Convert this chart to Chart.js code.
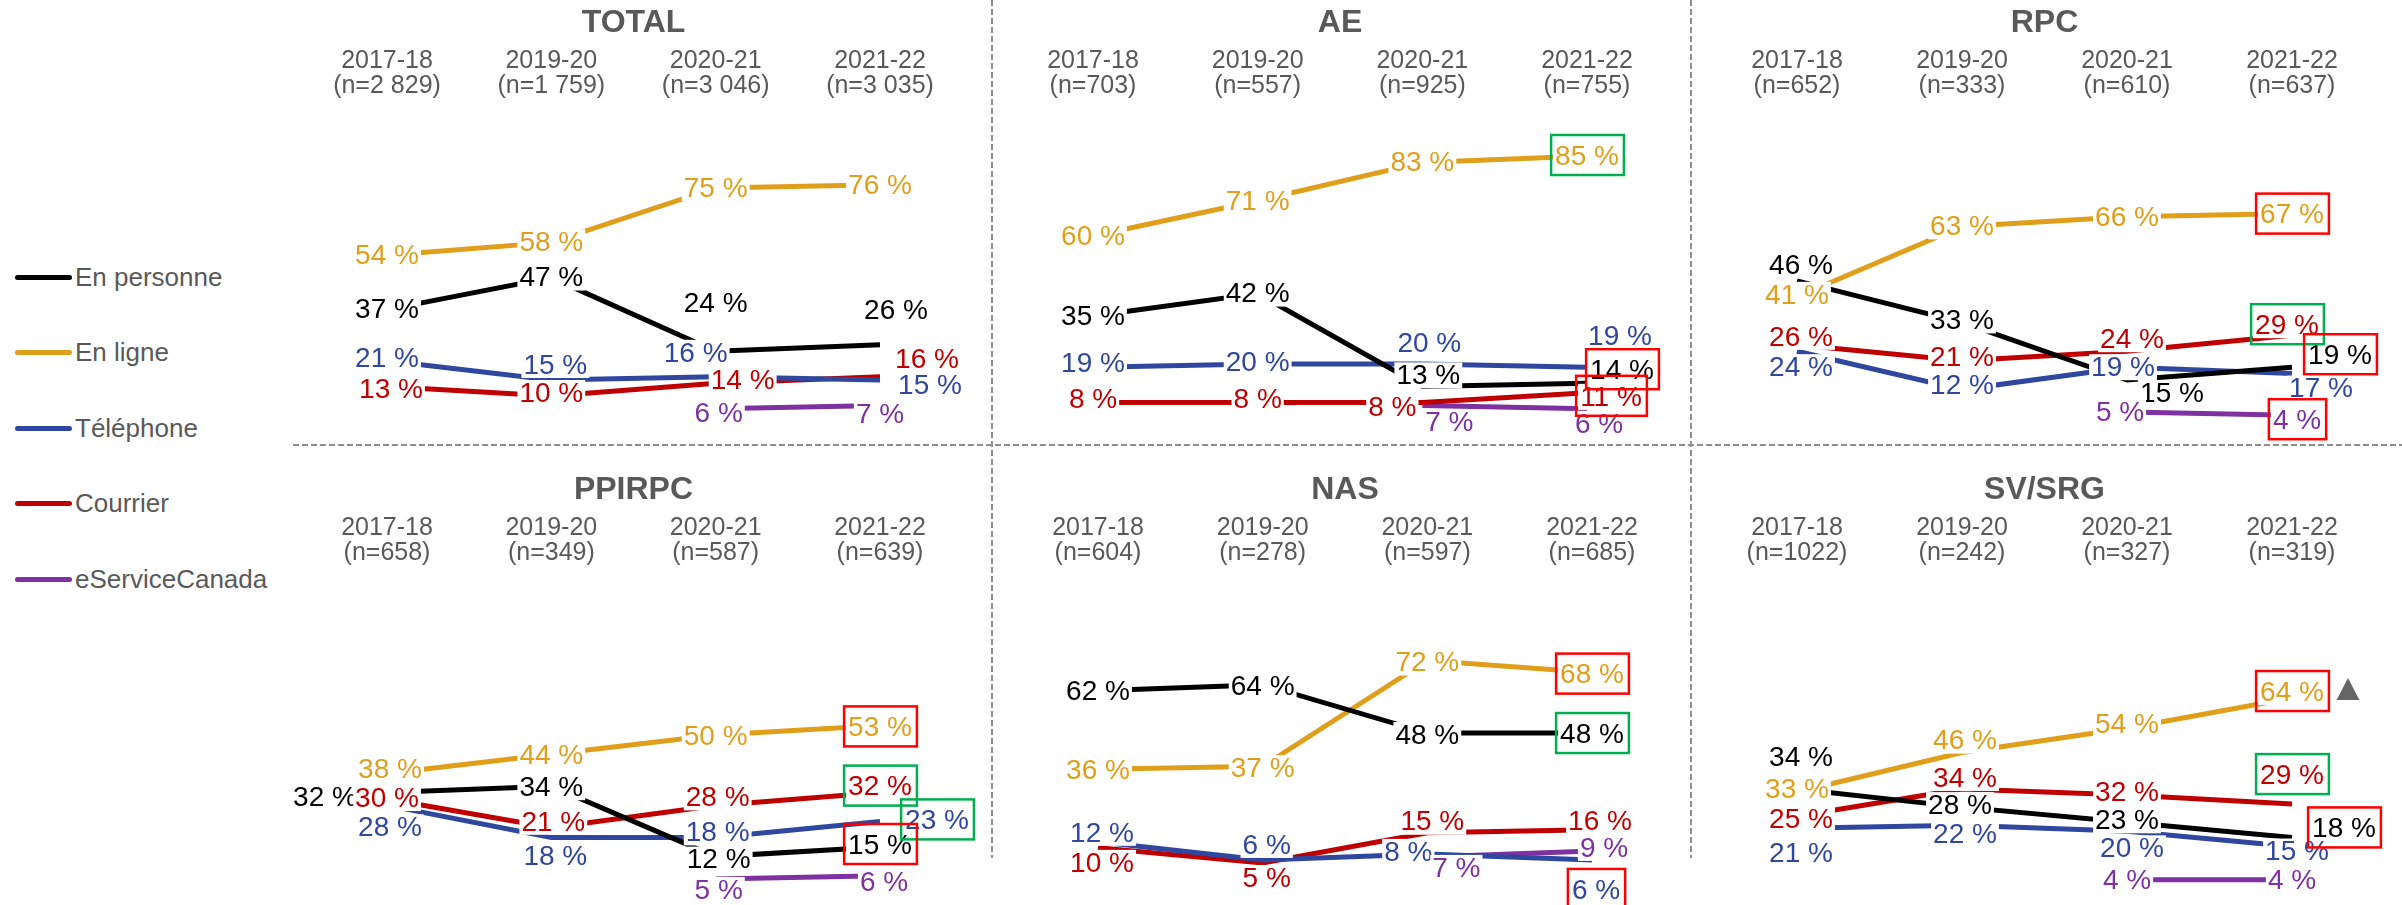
<!DOCTYPE html>
<html lang="fr">
<head>
<meta charset="utf-8">
<title>Canaux de service</title>
<script src="https://cdn.jsdelivr.net/npm/chart.js@4.4.1/dist/chart.umd.min.js"></script>
<style>
  body { margin: 0; width: 2402px; height: 905px; background: #fff; position: relative; overflow: hidden;
         font-family: "Liberation Sans", Arial, sans-serif; }
  canvas { position: absolute; }
  .sep-h { position: absolute; left: 293px; right: 0; top: 444px; height: 2px;
           background: repeating-linear-gradient(to right, #8f8f8f 0 6px, transparent 6px 9px); }
  .sep-v { position: absolute; top: 0; width: 2px; height: 858px;
           background: repeating-linear-gradient(to bottom, #8f8f8f 0 6px, transparent 6px 9px); }
  .item { position: absolute; left: 15px; height: 30px; display: flex; align-items: center;
          font-size: 26px; color: #595959; white-space: nowrap; }
  .item i { display: block; width: 57px; height: 5px; border-radius: 3px; margin-right: 3px; }
</style>
</head>
<body>
<div class="sep-h"></div>
<div class="sep-v" style="left:991px"></div>
<div class="sep-v" style="left:1690px"></div>
<div id="legend"></div>

<script>
const years = ['2017-18', '2019-20', '2020-21', '2021-22'];
const seriesNames = ['En personne', 'En ligne', 'Téléphone', 'Courrier', 'eServiceCanada'];
const seriesColors = ['#000000', '#e09f1b', '#2f479e', '#c00000', '#7e31a0'];

// sample sizes by year
const totalN = ['2 829', '1 759', '3 046', '3 035'];
const aeN = ['703', '557', '925', '755'];
const rpcN = ['652', '333', '610', '637'];
const ppirpcN = ['658', '349', '587', '639'];
const nasN = ['604', '278', '597', '685'];
const svN = ['1022', '242', '327', '319'];

// % by channel, one row per entry of seriesNames
const totalValues = [
  [37, 47, 24, 26],
  [54, 58, 75, 76],
  [21, 15, 16, 15],
  [13, 10, 14, 16],
  [null, null, 6, 7]
];
const aeValues = [
  [35, 42, 13, 14],
  [60, 71, 83, 85],
  [19, 20, 20, 19],
  [8, 8, 8, 11],
  [null, null, 7, 6]
];
const rpcValues = [
  [46, 33, 15, 19],
  [41, 63, 66, 67],
  [24, 12, 19, 17],
  [26, 21, 24, 29],
  [null, null, 5, 4]
];
const ppirpcValues = [
  [32, 34, 12, 15],
  [38, 44, 50, 53],
  [28, 18, 18, 23],
  [30, 21, 28, 32],
  [null, null, 5, 6]
];
const nasValues = [
  [62, 64, 48, 48],
  [36, 37, 72, 68],
  [12, 6, 8, 6],
  [10, 5, 15, 16],
  [null, null, 7, 9]
];
const svValues = [
  [34, 28, 23, 18],
  [33, 46, 54, 64],
  [21, 22, 20, 15],
  [25, 34, 32, 29],
  [null, null, 4, 4]
];

// label offsets [dx, dy] from each point, so crowded labels don't sit on top of each other
const totalNudge = [
  [[0, 0], [0, 0], [0, -48], [16, -35]],
  [[0, 0], [0, 0], [0, 0], [0, 0]],
  [[0, -3], [4, -15], [-20, -24], [50, 5]],
  [[4, 3], [0, -3], [27, -3], [47, -18]],
  [null, null, [3, 4], [0, 9]]
];
const aeNudge = [
  [[0, 0], [0, 0], [6, -11], [35, -13]],
  [[0, 0], [0, 0], [0, 0], [0, 0]],
  [[0, -4], [0, -2], [7, -21], [33, -31]],
  [[0, -3], [0, -3], [-30, 5], [24, 4]],
  [null, null, [27, 17], [12, 15]]
];
const rpcNudge = [
  [[4, -16], [0, -2], [45, 13], [48, -12]],
  [[0, -2], [0, 0], [0, 0], [0, 1]],
  [[4, 16], [0, -4], [-4, 0], [29, 15]],
  [[4, -8], [0, -4], [5, -12], [-5, -10]],
  [null, null, [-7, 0], [5, 5]]
];
const ppirpcNudge = [
  [[-62, 5], [0, 1], [3, 3], [0, -2]],
  [[3, -4], [0, 1], [0, 1], [0, 2]],
  [[3, 22], [4, 19], [2, -5], [57, -1]],
  [[0, -1], [2, -6], [2, -8], [0, -6]],
  [null, null, [3, 11], [4, 6]]
];
const nasNudge = [
  [[0, 1], [0, 2], [0, 2], [0, 1]],
  [[0, 1], [0, 2], [0, 2], [0, 2]],
  [[4, -9], [4, -15], [-19, -2], [4, 30]],
  [[4, 15], [4, 15], [5, -11], [8, -8]],
  [null, null, [29, 11], [12, -3]]
];
const svNudge = [
  [[4, -32], [-2, -2], [0, -2], [52, -9]],
  [[0, -3], [3, -12], [0, -4], [0, -6]],
  [[4, 25], [3, 9], [5, 17], [5, 5]],
  [[4, 3], [3, -11], [0, -3], [0, -29]],
  [null, null, [0, 0], [0, 0]]
];

const RED = '#ff0000';
const GREEN = '#00b050';
const GREY = '#595959';
const FONT = '"Liberation Sans", Arial, sans-serif';

const panels = [
  { title: 'TOTAL', n: totalN, values: totalValues, nudge: totalNudge, yRange: [0, 100],
    left: 280, top: 0, width: 710, height: 445, pad: [107, 110], boxes: [] },
  { title: 'AE', n: aeN, values: aeValues, nudge: aeNudge, yRange: [0, 100],
    left: 990, top: 0, width: 700, height: 445, pad: [103, 103],
    boxes: [[1, 3, GREEN], [0, 3, RED], [3, 3, RED]] },
  { title: 'RPC', n: rpcN, values: rpcValues, nudge: rpcNudge, yRange: [0, 100],
    left: 1700, top: 0, width: 702, height: 445, pad: [97, 110],
    boxes: [[1, 3, RED], [3, 3, GREEN], [0, 3, RED], [4, 3, RED]] },
  { title: 'PPIRPC', n: ppirpcN, values: ppirpcValues, nudge: ppirpcNudge, yRange: [0, 100],
    left: 280, top: 467, width: 710, height: 438, pad: [107, 110],
    boxes: [[1, 3, RED], [3, 3, GREEN], [2, 3, GREEN], [0, 3, RED]] },
  { title: 'NAS', n: nasN, values: nasValues, nudge: nasNudge, yRange: [-5.6, 100.3],
    left: 995, top: 467, width: 700, height: 438, pad: [103, 103],
    boxes: [[1, 3, RED], [0, 3, GREEN], [2, 3, RED]] },
  { title: 'SV/SRG', n: svN, values: svValues, nudge: svNudge, yRange: [-1, 104.6],
    left: 1700, top: 467, width: 702, height: 438, pad: [97, 110],
    boxes: [[1, 3, RED], [3, 3, GREEN], [0, 3, RED]], flag: [1, 3, 56, -3] }
];

// legend, shared by all six panels
const legend = document.getElementById('legend');
seriesNames.forEach((name, s) => {
  const row = document.createElement('div');
  row.className = 'item';
  row.style.top = (262 + s * 75.5) + 'px';
  row.innerHTML = `<i style="background:${seriesColors[s]}"></i>${name}`;
  legend.appendChild(row);
});

// value labels with a white backing, optional frames and the trend arrow
const pointLabels = {
  id: 'pointLabels',
  afterDatasetsDraw(chart, args, opts) {
    const p = opts.panel;
    const ctx = chart.ctx;
    const spots = {};
    ctx.save();
    ctx.font = `28px ${FONT}`;
    ctx.textAlign = 'center';
    ctx.textBaseline = 'middle';
    chart.data.datasets.forEach((ds, s) => {
      chart.getDatasetMeta(s).data.forEach((pt, i) => {
        const v = ds.data[i];
        if (v == null) return;
        const [dx, dy] = p.nudge[s][i];
        const text = `${v} %`;
        const w = ctx.measureText(text).width;
        const x = pt.x + dx;
        const y = pt.y + dy;
        ctx.fillStyle = '#fff';
        ctx.fillRect(x - w / 2 - 2, y - 13, w + 4, 26);
        ctx.fillStyle = ds.borderColor;
        ctx.fillText(text, x, y + 1);
        spots[s + '-' + i] = { x, y, w };
      });
    });
    ctx.lineWidth = 2.5;
    p.boxes.forEach(([s, i, color]) => {
      const sp = spots[s + '-' + i];
      ctx.strokeStyle = color;
      ctx.strokeRect(sp.x - sp.w / 2 - 4, sp.y - 21, sp.w + 9, 40);
    });
    if (p.flag) {
      const [s, i, dx, dy] = p.flag;
      const sp = spots[s + '-' + i];
      const cx = sp.x + dx;
      const cy = sp.y + dy;
      ctx.fillStyle = '#666666';
      ctx.beginPath();
      ctx.moveTo(cx, cy - 11);
      ctx.lineTo(cx + 11.5, cy + 11);
      ctx.lineTo(cx - 11.5, cy + 11);
      ctx.closePath();
      ctx.fill();
    }
    ctx.restore();
  }
};

const TITLE_H = 4 + 32 * 1.2;
const PLOT_TOP = 108;
const PLOT_BOTTOM = 428;

panels.forEach((p) => {
  const canvas = document.createElement('canvas');
  canvas.width = p.width;
  canvas.height = p.height;
  canvas.style.left = p.left + 'px';
  canvas.style.top = p.top + 'px';
  canvas.style.width = p.width + 'px';
  canvas.style.height = p.height + 'px';
  document.body.appendChild(canvas);

  new Chart(canvas, {
    type: 'line',
    data: {
      labels: years.map((y, i) => [y, `(n=${p.n[i]})`]),
      datasets: seriesNames.map((name, s) => ({
        label: name,
        data: p.values[s],
        borderColor: seriesColors[s],
        backgroundColor: seriesColors[s],
        borderWidth: 5,
        pointRadius: 0,
        tension: 0,
        fill: false
      }))
    },
    options: {
      responsive: false,
      animation: false,
      events: [],
      layout: { padding: { left: p.pad[0], right: p.pad[1], top: 0, bottom: p.height - PLOT_BOTTOM } },
      plugins: {
        legend: { display: false },
        tooltip: { enabled: false },
        title: {
          display: true,
          text: p.title,
          color: GREY,
          font: { family: FONT, size: 32, weight: 'bold', lineHeight: 1.2 },
          padding: { top: 4, bottom: 0 }
        },
        pointLabels: { panel: p }
      },
      scales: {
        x: {
          position: 'top',
          offset: false,
          grid: { display: false, drawTicks: false },
          border: { display: false },
          ticks: {
            color: GREY,
            font: { family: FONT, size: 25, lineHeight: 1 },
            padding: 9.5,
            autoSkip: false,
            maxRotation: 0
          },
          afterFit: (scale) => { scale.height = PLOT_TOP - TITLE_H; }
        },
        y: { display: false, min: p.yRange[0], max: p.yRange[1] }
      }
    },
    plugins: [pointLabels]
  });
});
</script>
</body>
</html>
